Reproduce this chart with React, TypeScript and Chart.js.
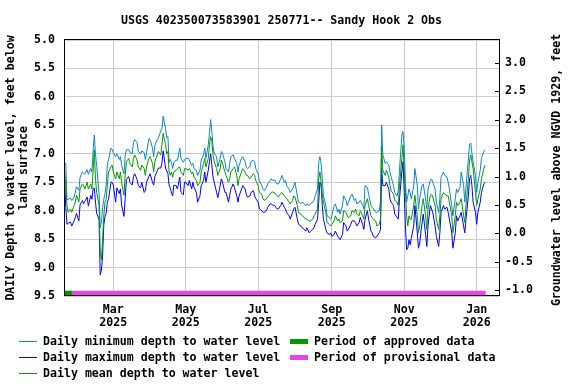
import React, { useEffect, useRef } from 'react';
import { Chart, registerables } from 'chart.js';

Chart.register(...registerables);

const TITLE = 'USGS 402350073583901 250771-- Sandy Hook 2 Obs';
const LEFT_TITLE = ['DAILY Depth to water level, feet below', 'land surface'];
const RIGHT_TITLE = 'Groundwater level above NGVD 1929, feet';

// day offset from 2025-01-01
const days = [
  18, 19, 20, 21, 23, 24, 26, 27, 28, 30, 31, 33, 34, 35, 37, 38, 40, 41, 42, 43, 44, 45, 47, 48, 49, 50,
  51, 52, 53, 54, 55, 57, 58, 59, 61, 62, 64, 65, 66, 68, 69, 70, 72, 73, 75, 76, 77, 79, 80, 82, 83, 85,
  86, 87, 89, 90, 92, 93, 94, 96, 97, 99, 100, 101, 103, 104, 105, 106, 107, 108,
  109, 110, 112, 113, 115, 116, 118, 119, 120, 122, 123, 125, 126, 127, 129, 130, 132, 133, 135, 136, 137,
  139, 140, 141, 142, 143, 144, 146, 147, 149, 150, 151, 153, 154, 156, 157, 158, 160, 161, 163, 164, 165,
  167, 168, 170, 171, 172, 174, 175, 177, 178, 179, 181, 182, 184, 185, 186, 188, 189, 191, 192, 193, 195,
  196, 197,
  198, 200, 201, 203, 204, 205, 207, 208, 210, 211, 212, 214, 215, 217, 218, 220, 221, 222, 224, 225, 227,
  228, 229, 231, 232, 233, 234, 235, 236, 238, 239, 241, 242, 243, 245, 246, 248, 249, 250, 252, 253, 255,
  256, 257, 259, 260, 262, 263, 264, 266, 267, 269, 270, 271, 273, 274, 276, 277, 278, 280, 281, 283, 284,
  285, 286, 288, 289, 291, 292, 293, 295, 296, 298, 299, 300, 302, 303, 304, 305, 306, 307, 308, 309, 310,
  312, 313, 315, 316, 317, 319, 320, 322, 323, 324, 326, 327, 328, 330, 331, 333, 334, 335, 337, 338, 340,
  341, 342, 344, 345, 347, 348, 349, 351, 352, 354, 355, 356, 358, 359, 360, 361, 362, 364, 365, 366, 368,
  369, 371, 372,
];

const minDepth = [
  7.17, 7.17, 7.80, 7.80, 7.78, 7.82, 7.76, 7.68, 7.58, 7.64, 7.42, 7.32, 7.34, 7.36, 7.28, 7.36, 7.26, 7.32, 6.95, 6.67, 7.00, 7.20, 7.70, 8.30, 8.20, 7.95,
  7.80, 7.70, 7.55, 7.20, 7.10, 6.90, 6.92, 6.98, 7.05, 7.00, 7.10, 7.05, 7.20, 7.35, 7.05, 6.93, 6.93, 6.98, 7.00, 6.80, 6.75, 6.80, 6.95, 7.00, 6.95, 6.98,
  7.10, 6.98, 6.73, 6.75, 6.90, 7.05, 6.85, 6.75, 6.72, 6.60, 6.55, 6.34, 6.55, 6.72, 6.70, 7.15, 7.10, 7.15,
  7.26, 7.15, 7.11, 7.12, 6.90, 7.08, 7.15, 7.11, 7.08, 7.08, 7.11, 7.20, 7.17, 7.26, 7.29, 7.38, 7.29, 7.11, 7.02, 6.90, 7.08,
  6.84, 6.64, 6.40, 6.61, 6.87, 6.99, 7.05, 7.23, 7.08, 6.96, 6.99, 7.14, 7.26, 7.32, 7.17, 7.05, 7.02, 7.08, 7.17, 7.32, 7.20,
  7.08, 7.05, 7.14, 7.23, 7.26, 7.23, 7.14, 7.11, 7.14, 7.26, 7.35, 7.47, 7.56, 7.62, 7.65, 7.59, 7.53, 7.47, 7.44, 7.47, 7.46,
  7.50, 7.53,
  7.53, 7.44, 7.38, 7.50, 7.47, 7.56, 7.62, 7.68, 7.62, 7.56, 7.50, 7.74, 7.85, 7.88, 7.85, 7.88, 7.91, 7.88, 7.91, 7.88, 7.85,
  7.82, 7.74, 7.62, 7.14, 7.05, 7.17, 7.44, 7.74, 7.91, 8.09, 8.12, 8.15, 8.09, 7.91, 7.88, 8.03, 7.97, 8.06, 7.91, 7.74, 7.82,
  7.91, 7.85, 7.74, 7.71, 7.82, 7.79, 7.88, 7.85, 7.82, 7.91, 7.97, 7.56, 7.59, 7.71, 7.91, 7.94, 7.97, 8.03, 8.03, 8.00, 7.85,
  6.49, 7.02, 7.17, 7.14, 7.20, 7.32, 7.41, 7.56, 7.68, 7.74, 7.65, 7.29, 6.67, 6.61, 6.90, 7.50, 7.85, 7.74, 7.62, 7.68, 7.79,
  7.56, 7.26, 7.56, 7.97, 7.79, 7.56, 7.53, 7.79, 7.97, 7.62, 7.47, 7.44, 7.50, 7.62, 7.85, 8.03, 7.79, 7.41, 7.32, 7.38, 7.41,
  7.50, 7.62, 7.91, 8.09, 7.79, 7.62, 7.68, 7.59, 7.32, 7.56, 7.85, 7.59, 7.08, 6.84, 6.81, 6.99, 7.14, 7.38, 7.68, 7.50, 7.29,
  7.08, 6.96, 6.93,
];

const meanDepth = [
  7.32, 7.56, 7.91, 8.03, 7.97, 8.03, 7.91, 7.85, 7.73, 7.85, 7.62, 7.53, 7.56, 7.62, 7.50, 7.62, 7.53, 7.62, 7.32, 6.93, 7.44, 7.68, 7.91, 8.74, 8.86, 8.50,
  8.09, 7.85, 7.80, 7.56, 7.32, 7.23, 7.20, 7.32, 7.44, 7.32, 7.44, 7.32, 7.50, 7.73, 7.38, 7.14, 7.08, 7.17, 7.23, 7.08, 7.02, 7.11, 7.23, 7.29, 7.20, 7.26,
  7.38, 7.23, 7.08, 7.05, 7.17, 7.32, 7.14, 7.02, 6.96, 7.02, 6.84, 6.64, 6.84, 7.00, 6.96, 7.32, 7.38, 7.32,
  7.41, 7.32, 7.29, 7.26, 7.23, 7.32, 7.38, 7.26, 7.26, 7.29, 7.26, 7.35, 7.32, 7.41, 7.47, 7.56, 7.50, 7.32, 7.17, 7.08, 7.23,
  7.08, 6.84, 6.70, 6.78, 7.02, 7.14, 7.26, 7.38, 7.26, 7.11, 7.17, 7.32, 7.38, 7.50, 7.44, 7.32, 7.26, 7.23, 7.38, 7.56, 7.44,
  7.32, 7.26, 7.32, 7.38, 7.38, 7.44, 7.41, 7.35, 7.38, 7.47, 7.56, 7.68, 7.71, 7.79, 7.82, 7.79, 7.76, 7.71, 7.68, 7.67, 7.69,
  7.71, 7.74,
  7.76, 7.70, 7.68, 7.74, 7.76, 7.79, 7.85, 7.88, 7.82, 7.74, 7.76, 7.91, 8.03, 8.06, 8.09, 8.12, 8.15, 8.15, 8.18, 8.18, 8.15,
  8.09, 8.06, 7.97, 7.44, 7.32, 7.50, 7.73, 7.85, 8.03, 8.21, 8.24, 8.27, 8.24, 8.18, 8.09, 8.18, 8.15, 8.21, 8.18, 8.00, 8.03,
  8.09, 8.12, 8.09, 8.00, 8.03, 7.97, 8.06, 8.09, 8.00, 8.09, 8.15, 7.91, 7.79, 7.91, 8.09, 8.12, 8.15, 8.18, 8.27, 8.24, 8.15,
  6.87, 7.29, 7.38, 7.29, 7.41, 7.56, 7.65, 7.71, 7.82, 7.85, 7.91, 7.56, 7.08, 6.84, 7.32, 7.68, 8.09, 8.27, 8.09, 8.15, 8.15,
  7.91, 7.73, 8.09, 8.39, 8.27, 7.91, 7.79, 8.09, 8.33, 7.97, 7.73, 7.71, 7.76, 7.91, 8.15, 8.33, 8.09, 7.79, 7.68, 7.71, 7.74,
  7.74, 7.85, 8.09, 8.39, 8.09, 7.85, 7.91, 7.85, 7.79, 8.09, 8.21, 7.91, 7.44, 7.11, 7.02, 7.14, 7.26, 7.68, 7.91, 7.79, 7.62,
  7.44, 7.26, 7.20,
];

const maxDepth = [
  7.45, 7.95, 8.24, 8.22, 8.20, 8.27, 8.18, 8.12, 8.05, 8.18, 7.90, 7.82, 7.88, 7.84, 7.76, 7.92, 7.73, 7.80, 7.62, 7.60, 7.85, 8.05, 8.15, 9.13, 9.05, 8.80,
  8.25, 8.10, 8.05, 7.85, 7.80, 7.50, 7.50, 7.55, 7.85, 7.60, 7.70, 7.62, 7.90, 8.10, 7.80, 7.45, 7.40, 7.50, 7.55, 7.40, 7.35, 7.45, 7.55, 7.60, 7.50, 7.68,
  7.65, 7.50, 7.40, 7.35, 7.50, 7.55, 7.40, 7.30, 7.25, 7.25, 7.15, 6.95, 7.25, 7.30, 7.35, 7.55, 7.60, 7.70,
  7.74, 7.55, 7.56, 7.62, 7.41, 7.68, 7.72, 7.50, 7.50, 7.56, 7.47, 7.62, 7.50, 7.59, 7.68, 7.85, 7.74, 7.56, 7.47, 7.32, 7.50,
  7.29, 7.14, 7.00, 7.20, 7.41, 7.50, 7.68, 7.77, 7.56, 7.44, 7.50, 7.68, 7.68, 7.85, 7.74, 7.62, 7.53, 7.59, 7.74, 7.85, 7.74,
  7.62, 7.56, 7.62, 7.71, 7.76, 7.74, 7.68, 7.65, 7.74, 7.79, 7.85, 7.97, 8.00, 8.03, 8.03, 8.00, 7.94, 7.88, 7.88, 7.90, 7.91,
  7.94, 7.97,
  7.97, 7.91, 7.85, 7.94, 7.97, 8.03, 8.09, 8.15, 8.03, 7.97, 7.94, 8.15, 8.24, 8.27, 8.30, 8.33, 8.36, 8.30, 8.39, 8.36, 8.33,
  8.30, 8.24, 8.15, 7.85, 7.50, 7.56, 7.91, 8.15, 8.33, 8.39, 8.42, 8.39, 8.45, 8.42, 8.36, 8.45, 8.48, 8.51, 8.42, 8.21, 8.27,
  8.36, 8.33, 8.24, 8.18, 8.18, 8.21, 8.27, 8.21, 8.12, 8.24, 8.33, 8.15, 8.00, 8.15, 8.36, 8.39, 8.45, 8.48, 8.45, 8.39, 8.33,
  7.26, 7.56, 7.56, 7.50, 7.62, 7.79, 7.85, 7.91, 8.06, 8.12, 8.15, 7.79, 7.32, 7.14, 7.68, 8.27, 8.69, 8.66, 8.51, 8.60, 8.48,
  8.27, 7.91, 8.39, 8.66, 8.57, 8.21, 8.06, 8.42, 8.63, 8.27, 7.91, 7.97, 8.03, 8.27, 8.45, 8.63, 8.39, 8.03, 7.91, 7.97, 7.94,
  8.03, 8.15, 8.39, 8.66, 8.39, 8.09, 8.18, 8.09, 8.03, 8.27, 8.39, 8.15, 7.74, 7.44, 7.38, 7.56, 7.85, 8.03, 8.24, 8.03, 7.85,
  7.68, 7.53, 7.50,
];

const approvedPeriod = [17.5, 24.2];
const provisionalPeriod = [24.2, 372.6];
const PERIOD_BAR_DEPTH = 9.45;

const monthTickDays = [59, 120, 181, 243, 304, 365];
const monthTickLabels = [
  ['Mar', '2025'],
  ['May', '2025'],
  ['Jul', '2025'],
  ['Sep', '2025'],
  ['Nov', '2025'],
  ['Jan', '2026'],
];
const depthTicks = [5.0, 5.5, 6.0, 6.5, 7.0, 7.5, 8.0, 8.5, 9.0, 9.5];
const elevationTicks = [-1.0, -0.5, 0.0, 0.5, 1.0, 1.5, 2.0, 2.5, 3.0];
const DATUM_OFFSET = 8.4; // elevation = DATUM_OFFSET - depth
const X_RANGE = [17.5, 383.8];
const DEPTH_RANGE = [5.0, 9.5];

const MIN_COLOR = '#0a86cc';
const MAX_COLOR = '#0000ff';
const MEAN_COLOR = '#009a00';
const APPROVED_COLOR = '#009900';
const PROVISIONAL_COLOR = '#ee44dd';

const legendItems = [
  { label: 'Daily minimum depth to water level', color: MIN_COLOR, width: 1 },
  { label: 'Daily maximum depth to water level', color: MAX_COLOR, width: 1 },
  { label: 'Daily mean depth to water level', color: MEAN_COLOR, width: 1 },
  { label: 'Period of approved data', color: APPROVED_COLOR, width: 5 },
  { label: 'Period of provisional data', color: PROVISIONAL_COLOR, width: 5 },
];

const FONT_FAMILY = '"DejaVu Sans Mono", "Liberation Mono", monospace';
const FONT_SIZE = 11.6;
const FONT = `bold ${FONT_SIZE}px ${FONT_FAMILY}`;

const overlayPlugin = {
  id: 'overlay',
  beforeDraw(chart: any) {
    const ctx = chart.ctx;
    ctx.save();
    ctx.fillStyle = '#ffffff';
    ctx.fillRect(0, 0, chart.width, chart.height);
    ctx.restore();
  },
  afterDraw(chart: any) {
    const { ctx, chartArea: a } = chart;
    ctx.save();
    ctx.strokeStyle = '#000';
    ctx.lineWidth = 1;
    ctx.strokeRect(a.left + 0.5, a.top - 0.5, a.right - a.left, a.bottom - a.top);

    // inside tick marks on right axis
    const y2 = chart.scales.y2;
    ctx.beginPath();
    elevationTicks.forEach((v) => {
      const py = Math.round(y2.getPixelForValue(v)) + 0.5;
      ctx.moveTo(a.right - 4, py);
      ctx.lineTo(a.right + 0.5, py);
    });
    ctx.stroke();

    ctx.fillStyle = '#000';
    ctx.font = FONT;
    ctx.textAlign = 'center';
    ctx.textBaseline = 'middle';
    ctx.fillText(TITLE, (a.left + a.right) / 2, 21);

    const midY = (a.top + a.bottom) / 2;
    [11, 24].forEach((x, i) => {
      ctx.save();
      ctx.translate(x, midY);
      ctx.rotate(-Math.PI / 2);
      ctx.fillText(LEFT_TITLE[i], 0, 0);
      ctx.restore();
    });
    ctx.save();
    ctx.translate(557, midY + 2);
    ctx.rotate(-Math.PI / 2);
    ctx.fillText(RIGHT_TITLE, 0, 0);
    ctx.restore();

    // legend
    ctx.textAlign = 'left';
    const rows = [341, 357, 373];
    legendItems.forEach((item, i) => {
      const col = i < 3 ? 0 : 1;
      const row = i < 3 ? i : i - 3;
      const y = rows[row];
      const x0 = col === 0 ? 19 : 290;
      const x1 = col === 0 ? 37 : 308;
      const tx = col === 0 ? 43 : 314;
      ctx.strokeStyle = item.color;
      ctx.lineWidth = item.width;
      ctx.beginPath();
      const ly = item.width % 2 === 1 ? Math.round(y) + 0.5 : Math.round(y);
      ctx.moveTo(x0, ly);
      ctx.lineTo(x1, ly);
      ctx.stroke();
      ctx.fillStyle = '#000';
      ctx.fillText(item.label, tx, y + 1);
    });
    ctx.restore();
  },
};

export default function App() {
  const canvasRef = useRef<HTMLCanvasElement | null>(null);

  useEffect(() => {
    const canvas = canvasRef.current;
    if (!canvas) return;
    const series = (arr: number[]) => days.map((d, i) => ({ x: d, y: arr[i] }));
    const tickFont = { family: FONT_FAMILY, size: FONT_SIZE, weight: 'bold' as const, lineHeight: 1.12 };

    const chart = new Chart(canvas, {
      type: 'line',
      data: {
        datasets: [
          { label: legendItems[0].label, data: series(minDepth), borderColor: MIN_COLOR, borderWidth: 1, pointRadius: 0, yAxisID: 'y', order: 3 },
          { label: legendItems[1].label, data: series(maxDepth), borderColor: MAX_COLOR, borderWidth: 1, pointRadius: 0, yAxisID: 'y', order: 2 },
          { label: legendItems[2].label, data: series(meanDepth), borderColor: MEAN_COLOR, borderWidth: 1, pointRadius: 0, yAxisID: 'y', order: 1 },
          {
            label: legendItems[3].label,
            data: approvedPeriod.map((d) => ({ x: d, y: PERIOD_BAR_DEPTH })),
            borderColor: APPROVED_COLOR, borderWidth: 5, pointRadius: 0, yAxisID: 'y', order: 0, borderCapStyle: 'butt',
          },
          {
            label: legendItems[4].label,
            data: provisionalPeriod.map((d) => ({ x: d, y: PERIOD_BAR_DEPTH })),
            borderColor: PROVISIONAL_COLOR, borderWidth: 5, pointRadius: 0, yAxisID: 'y', order: 0, borderCapStyle: 'butt',
          },
        ],
      },
      options: {
        animation: false,
        responsive: false,
        devicePixelRatio: 1,
        events: [],
        layout: { padding: { top: 40, bottom: 48, left: 0, right: 0 } },
        plugins: { legend: { display: false }, tooltip: { enabled: false }, title: { display: false } },
        elements: { line: { tension: 0 } },
        scales: {
          x: {
            type: 'linear',
            min: X_RANGE[0],
            max: X_RANGE[1],
            afterBuildTicks: (s: any) => { s.ticks = monthTickDays.map((v) => ({ value: v })); },
            afterFit: (s: any) => { s.height = 40; },
            ticks: {
              autoSkip: false,
              maxRotation: 0,
              padding: 7,
              color: '#000',
              font: tickFont,
              callback: (_v: any, i: number) => monthTickLabels[i],
            },
            grid: { color: '#cccccc', lineWidth: 1, drawTicks: false },
            border: { display: false },
          },
          y: {
            type: 'linear',
            position: 'left',
            reverse: true,
            min: DEPTH_RANGE[0],
            max: DEPTH_RANGE[1],
            afterBuildTicks: (s: any) => { s.ticks = depthTicks.map((v) => ({ value: v })); },
            afterFit: (s: any) => { s.width = 64; },
            ticks: { padding: 9, color: '#000', font: tickFont, callback: (v: any) => Number(v).toFixed(1) },
            grid: { color: '#cccccc', lineWidth: 1, drawTicks: false },
            border: { display: false },
          },
          y2: {
            type: 'linear',
            position: 'right',
            min: DATUM_OFFSET - DEPTH_RANGE[1],
            max: DATUM_OFFSET - DEPTH_RANGE[0],
            afterBuildTicks: (s: any) => { s.ticks = elevationTicks.map((v) => ({ value: v })); },
            afterFit: (s: any) => { s.width = 77; },
            ticks: { padding: 6, color: '#000', font: tickFont, callback: (v: any) => Number(v).toFixed(1) },
            grid: { drawOnChartArea: false, drawTicks: false },
            border: { display: false },
          },
        },
      },
      plugins: [overlayPlugin],
    } as any);

    return () => chart.destroy();
  }, []);

  return (
    <div style={{ position: 'fixed', left: 0, top: 0, width: 576, height: 384, background: '#fff' }}>
      <canvas ref={canvasRef} width={576} height={384} style={{ display: 'block', width: 576, height: 384 }} />
    </div>
  );
}
